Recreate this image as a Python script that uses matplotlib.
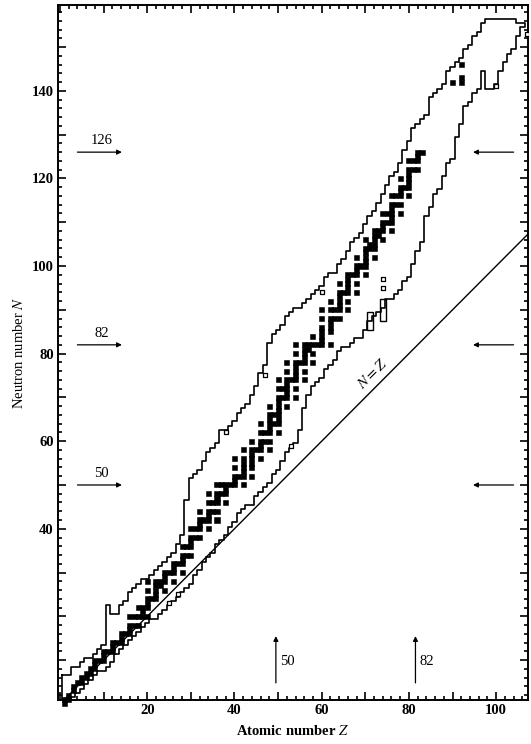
import matplotlib
matplotlib.use("Agg")
import matplotlib.pyplot as plt
from matplotlib.ticker import MultipleLocator, FuncFormatter
import numpy as np

plt.rcParams['font.family'] = ['Liberation Serif', 'DejaVu Serif']
plt.rcParams['mathtext.fontset'] = 'stix'

# ---- data -------------------------------------------------------------
# stable / primordial nuclides: (Z, [N values])
stable_nuclides = [
    (1, [0, 1]), (2, [1, 2]), (3, [3, 4]), (4, [5]), (5, [5, 6]), (6, [6, 7]),
    (7, [7, 8]), (8, [8, 9, 10]), (9, [10]), (10, [10, 11, 12]), (11, [12]),
    (12, [12, 13, 14]), (13, [14]), (14, [14, 15, 16]), (15, [16]),
    (16, [16, 17, 18, 20]), (17, [18, 20]), (18, [18, 20, 22]), (19, [20, 21, 22]),
    (20, [20, 22, 23, 24, 26, 28]), (21, [24]), (22, [24, 25, 26, 27, 28]),
    (23, [27, 28]), (24, [26, 28, 29, 30]), (25, [30]), (26, [28, 30, 31, 32]),
    (27, [32]), (28, [30, 32, 33, 34, 36]), (29, [34, 36]), (30, [34, 36, 37, 38, 40]),
    (31, [38, 40]), (32, [38, 40, 41, 42, 44]), (33, [42]), (34, [40, 42, 43, 44, 46, 48]),
    (35, [44, 46]), (36, [42, 44, 46, 47, 48, 50]), (37, [48, 50]), (38, [46, 48, 49, 50]),
    (39, [50]), (40, [50, 51, 52, 54, 56]), (41, [52]), (42, [50, 52, 53, 54, 55, 56, 58]),
    (44, [52, 54, 55, 56, 57, 58, 60]), (45, [58]), (46, [56, 58, 59, 60, 62, 64]),
    (47, [60, 62]), (48, [58, 60, 62, 63, 64, 65, 66, 68]), (49, [64, 66]),
    (50, [62, 64, 65, 66, 67, 68, 69, 70, 72, 74]), (51, [70, 72]),
    (52, [68, 70, 71, 72, 73, 74, 76, 78]), (53, [74]),
    (54, [70, 72, 74, 75, 76, 77, 78, 80, 82]), (55, [78]),
    (56, [74, 76, 78, 79, 80, 81, 82]), (57, [81, 82]), (58, [78, 80, 82, 84]),
    (59, [82]), (60, [82, 83, 84, 85, 86, 88, 90]), (62, [82, 85, 86, 87, 88, 90, 92]),
    (63, [88, 90]), (64, [88, 90, 91, 92, 93, 94, 96]), (65, [94]),
    (66, [90, 92, 94, 95, 96, 97, 98]), (67, [98]), (68, [94, 96, 98, 99, 100, 102]),
    (69, [100]), (70, [98, 100, 101, 102, 103, 104, 106]), (71, [104, 105]),
    (72, [102, 104, 105, 106, 107, 108]), (73, [107, 108]), (74, [106, 108, 109, 110, 112]),
    (75, [110, 112]), (76, [108, 110, 111, 112, 113, 114, 116]), (77, [114, 116]),
    (78, [112, 114, 116, 117, 118, 120]), (79, [118]),
    (80, [116, 118, 119, 120, 121, 122, 124]), (81, [122, 124]),
    (82, [122, 124, 125, 126]), (83, [126]), (90, [142]), (92, [142, 143, 146]),
]

# limits of known nuclei (heaviest / lightest N for each Z)
bound_Z = list(range(1, 107))
upper_N = [6, 6, 8, 8, 9, 10, 10, 11, 12, 13, 22, 20, 20, 22, 23, 25, 26, 27, 28, 28,
           29, 30, 31, 32, 33, 34, 36, 38, 46, 51, 52, 53, 55, 57, 58, 59, 62, 62, 63, 64,
           66, 67, 68, 70, 72, 75, 77, 82, 84, 85, 86, 88, 89, 90, 90, 91, 92, 93, 94, 95,
           97, 98, 98, 100, 101, 103, 105, 106, 107, 109, 111, 112, 114, 116, 118, 120, 121, 123, 126, 128,
           131, 132, 133, 134, 138, 139, 140, 141, 144, 145, 146, 147, 149, 150, 152, 153, 155, 156, 156, 156,
           156, 156, 156, 156, 155, 155]
lower_N = [0, 1, 2, 3, 4, 5, 6, 7, 8, 8, 9, 10, 12, 13, 14, 15, 16, 17, 18, 19,
           20, 20, 21, 22, 23, 24, 25, 26, 27, 28, 30, 31, 33, 34, 35, 37, 38, 39, 41, 42,
           44, 45, 46, 46, 48, 49, 50, 51, 53, 54, 56, 58, 59, 60, 63, 68, 71, 73, 74, 75,
           77, 78, 79, 81, 82, 82, 83, 84, 84, 86, 88, 89, 90, 91, 93, 93, 94, 95, 97, 98,
           101, 104, 106, 112, 114, 117, 118, 121, 124, 125, 130, 133, 137, 138, 140, 141, 145, 141, 141, 142,
           145, 147, 149, 150, 153, 155]

# isolated islands of known nuclei (Z, N low, N high)
island_Z = [71, 74]
island_Nlo = [86, 88]
island_Nhi = [89, 92]

# other marked nuclides (open squares)
open_Z = [25, 27, 38, 47, 53, 60, 74, 74, 100, 107]
open_N = [23, 25, 62, 75, 59, 94, 97, 95, 141, 153]

magic = [50, 82, 126]
magic_Z = [50, 82]

x_labels = [20, 40, 60, 80, 100]
y_labels = [40, 60, 80, 100, 120, 140]

# ---- figure -----------------------------------------------------------
W, H = 531, 744
fig = plt.figure(figsize=(W / 100, H / 100), dpi=100)
ax = fig.add_axes([58 / W, 1 - 700 / H, (528 - 58) / W, (700 - 5) / H])
ax.set_xlim(-0.45, 107.3)
ax.set_ylim(0.9, 159.6)

# stable nuclides as filled cells
sz, sn = [], []
for z, ns in stable_nuclides:
    for n in ns:
        sz.append(z)
        sn.append(n)
sz = np.array(sz); sn = np.array(sn)
cell = 1.15
ax.bar(sz, cell, width=cell, bottom=sn - cell / 2, color='black', edgecolor='black',
       linewidth=0.4, clip_on=False, zorder=3)

# boundaries as staircases along cell edges
bz = np.array(bound_Z, dtype=float)
up = np.array(upper_N, dtype=float) + 0.5
lo = np.array(lower_N, dtype=float) - 0.5
ux = np.column_stack([bz - 0.5, bz + 0.5]).ravel()
uy = np.repeat(up, 2)
ly = np.repeat(lo, 2)
outline_x = np.concatenate([ux, ux[::-1], [ux[0]]])
outline_y = np.concatenate([uy, ly[::-1], [uy[0]]])
ax.plot(outline_x, outline_y, color='black', lw=1.2, zorder=2)

# islands
for z, a, b in zip(island_Z, island_Nlo, island_Nhi):
    ax.bar(z, b - a + 1, width=1.4, bottom=a - 0.5, facecolor='none',
           edgecolor='black', linewidth=1.0, zorder=2)

# open squares
ax.scatter(open_Z, open_N, marker='s', s=7, facecolor='white', edgecolor='black',
           linewidth=0.9, zorder=4)

# N = Z line
zz = np.array([0, 110])
ax.plot(zz, zz, color='black', lw=1.0, zorder=1)
ax.text(71.8, 75.3, r'$N = Z$', rotation=45, rotation_mode='anchor',
        ha='center', va='center', fontsize=11)

# magic-number arrows
ap = dict(arrowstyle='-|>', lw=0.9, color='black', mutation_scale=7, shrinkA=0, shrinkB=0)
for m in magic:
    ax.annotate('', xy=(14.2, m), xytext=(4.0, m), arrowprops=ap)
    ax.text(9.6, m + 1.2, str(m), ha='center', va='bottom', fontsize=10.5)
    ax.annotate('', xy=(94.7, m), xytext=(104.0, m), arrowprops=ap)
for m in magic_Z:
    ax.annotate('', xy=(m - 0.5, 15.5), xytext=(m - 0.5, 4.8), arrowprops=ap)
    ax.text(m + 0.5, 9.6, str(m), ha='left', va='center', fontsize=10.5)

# axes styling: long ticks every 10, short every 2, labels only at selected values
ax.xaxis.set_major_locator(MultipleLocator(10))
ax.xaxis.set_minor_locator(MultipleLocator(2))
ax.yaxis.set_major_locator(MultipleLocator(10))
ax.yaxis.set_minor_locator(MultipleLocator(2))
ax.xaxis.set_major_formatter(FuncFormatter(lambda v, p: f"{int(round(v))}" if int(round(v)) in x_labels else ""))
ax.yaxis.set_major_formatter(FuncFormatter(lambda v, p: f"{int(round(v))}" if int(round(v)) in y_labels else ""))
ax.tick_params(which='both', direction='in', top=True, right=True, width=1.2)
ax.tick_params(which='major', length=6, labelsize=10.5, pad=3)
ax.tick_params(which='minor', length=3)
for lab in ax.get_xticklabels() + ax.get_yticklabels():
    lab.set_fontweight('bold')
for sp in ax.spines.values():
    sp.set_linewidth(1.4)

ax.set_xlabel(r'Atomic number $\mathbf{\mathit{Z}}$', fontsize=10.5, fontweight='bold', labelpad=5)
ax.set_ylabel(r'Neutron number $N$', fontsize=10.5, labelpad=4)

fig.savefig('out.png', dpi=100)
